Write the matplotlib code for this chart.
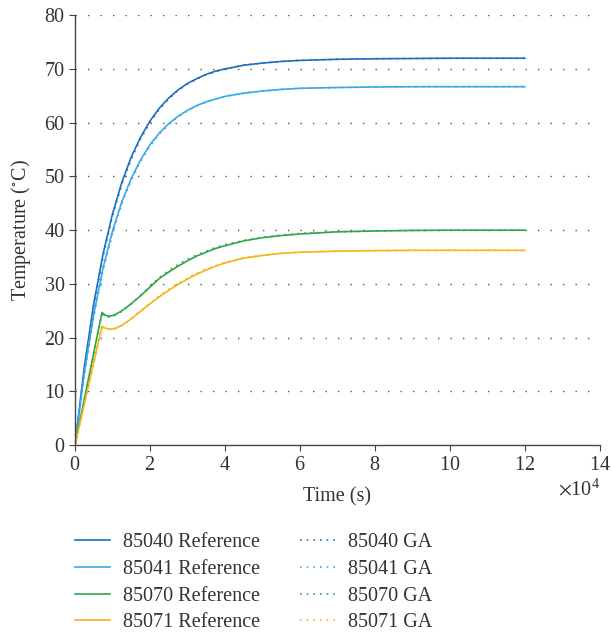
import matplotlib
matplotlib.use("Agg")
import matplotlib.pyplot as plt
import numpy as np

plt.rcParams['font.family'] = ['Liberation Serif', 'DejaVu Serif']
plt.rcParams['mathtext.fontset'] = 'stix'

# time in units of 1e4 s
t_fast = [0, 0.25, 0.5, 0.75, 1, 1.25, 1.5, 1.75, 2, 2.25, 2.5, 2.75, 3, 3.25,
          3.5, 3.75, 4, 4.5, 5, 5.5, 6, 7, 8, 9, 10, 11, 12]
T_85040_ref = [0, 14.6, 26.3, 35.6, 43.0, 48.9, 53.6, 57.3, 60.3, 62.7, 64.6,
               66.1, 67.3, 68.2, 69.0, 69.6, 70.0, 70.7, 71.1, 71.4, 71.6,
               71.8, 71.9, 71.95, 72.0, 72.0, 72.0]
T_85041_ref = [0, 13.5, 24.3, 33.0, 39.8, 45.3, 49.6, 53.1, 55.9, 58.1, 59.8,
               61.2, 62.3, 63.2, 63.9, 64.4, 64.9, 65.5, 65.9, 66.2, 66.4,
               66.55, 66.65, 66.7, 66.7, 66.7, 66.7]
T_85040_ga = [0, 14.2, 25.8, 35.1, 42.6, 48.5, 53.2, 57.0, 60.0, 62.5, 64.4,
              66.0, 67.2, 68.1, 68.9, 69.5, 70.0, 70.7, 71.1, 71.4, 71.6,
              71.8, 71.9, 71.95, 72.0, 72.0, 72.0]
T_85041_ga = [0, 13.1, 23.8, 32.5, 39.3, 44.9, 49.2, 52.8, 55.6, 57.9, 59.6,
              61.1, 62.2, 63.1, 63.8, 64.4, 64.9, 65.5, 65.9, 66.2, 66.4,
              66.55, 66.65, 66.7, 66.7, 66.7, 66.7]

t_slow = [0, 0.72, 0.8, 0.9, 1.0, 1.1, 1.25, 1.5, 1.75, 2, 2.25, 2.5, 2.75, 3,
          3.25, 3.5, 3.75, 4, 4.5, 5, 5.5, 6, 7, 8, 9, 10, 11, 12]
T_85070_ref = [0, 24.7, 24.2, 24.0, 24.1, 24.4, 25.0, 26.3, 27.8, 29.4, 31.0,
               32.2, 33.3, 34.3, 35.2, 35.9, 36.6, 37.1, 38.0, 38.6, 39.0,
               39.3, 39.7, 39.85, 39.95, 40.0, 40.0, 40.0]
T_85071_ref = [0, 22.1, 21.8, 21.6, 21.6, 21.8, 22.3, 23.5, 24.9, 26.3, 27.6,
               28.8, 29.9, 30.9, 31.8, 32.6, 33.3, 33.9, 34.8, 35.3, 35.7,
               35.9, 36.1, 36.2, 36.25, 36.25, 36.25, 36.25]
T_85070_ga = [0, 24.3, 23.9, 23.8, 23.9, 24.3, 24.9, 26.3, 27.9, 29.6, 31.2,
              32.5, 33.6, 34.6, 35.4, 36.1, 36.8, 37.3, 38.1, 38.7, 39.1,
              39.4, 39.7, 39.85, 39.95, 40.0, 40.0, 40.0]
T_85071_ga = [0, 21.8, 21.6, 21.5, 21.5, 21.7, 22.2, 23.5, 25.0, 26.4, 27.8,
              29.0, 30.1, 31.1, 32.0, 32.8, 33.4, 34.0, 34.9, 35.3, 35.7,
              35.9, 36.1, 36.2, 36.25, 36.25, 36.25, 36.25]

names = ["85040", "85041", "85070", "85071"]
colors = ["#1f6dbf", "#3aaae4", "#2fa64c", "#f4b41c"]
ref_series = [(t_fast, T_85040_ref), (t_fast, T_85041_ref),
              (t_slow, T_85070_ref), (t_slow, T_85071_ref)]
ga_series = [(t_fast, T_85040_ga), (t_fast, T_85041_ga),
             (t_slow, T_85070_ga), (t_slow, T_85071_ga)]

fig = plt.figure(figsize=(6.12, 6.35), dpi=100)
ax = fig.add_axes([0.1225, 0.299, 0.8575, 0.677])

ref_lines, ga_lines = [], []
for name, c, (t, T) in zip(names, colors, ref_series):
    l, = ax.plot(np.array(t) * 1e4, T, color=c, lw=1.2, label=name + " Reference")
    ref_lines.append(l)
for name, c, (t, T) in zip(names, colors, ga_series):
    l, = ax.plot(np.array(t) * 1e4, T, color=c, lw=1.2, ls=(0, (1, 3)),
                 label=name + " GA")
    ga_lines.append(l)

ax.set_xlim(0, 140000)
ax.set_ylim(0, 80)
ax.set_xticks(np.arange(0, 140001, 20000))
ax.set_yticks(np.arange(0, 81, 10))
ax.ticklabel_format(axis='x', style='sci', scilimits=(4, 4), useMathText=True)
ax.xaxis.get_offset_text().set_fontsize(14.5)
ax.xaxis.get_offset_text().set_color("#333333")

for y in range(10, 81, 10):
    ax.axhline(y, color="#555555", lw=1.0, ls=(0, (1, 8)), zorder=0)

for s in ["top", "right"]:
    ax.spines[s].set_visible(False)
for s in ["left", "bottom"]:
    ax.spines[s].set_color("#444444")
    ax.spines[s].set_linewidth(1.0)
ax.tick_params(direction="out", length=4, color="#444444", labelsize=14.5,
               labelcolor="#333333")

ax.set_xlabel("Time (s)", fontsize=14.5, color="#333333", va="center")
ax.set_ylabel("Temperature ($^{\\circ}$C)", fontsize=14.5, color="#333333",
              va="center")
ax.xaxis.set_label_coords(0.5, -0.121)
ax.yaxis.set_label_coords(-0.103, 0.5)

leg_kw = dict(frameon=False, loc="upper left", fontsize=14.5, handlelength=1.75,
              handletextpad=0.65, labelspacing=0.37, borderpad=0,
              borderaxespad=0, labelcolor="#333333")
fig.legend(ref_lines, [l.get_label() for l in ref_lines],
           bbox_to_anchor=(0.1225, 0.16), **leg_kw)
fig.legend(ga_lines, [l.get_label() for l in ga_lines],
           bbox_to_anchor=(0.49, 0.16), **leg_kw)

fig.savefig("out.png", dpi=100, facecolor="white")
